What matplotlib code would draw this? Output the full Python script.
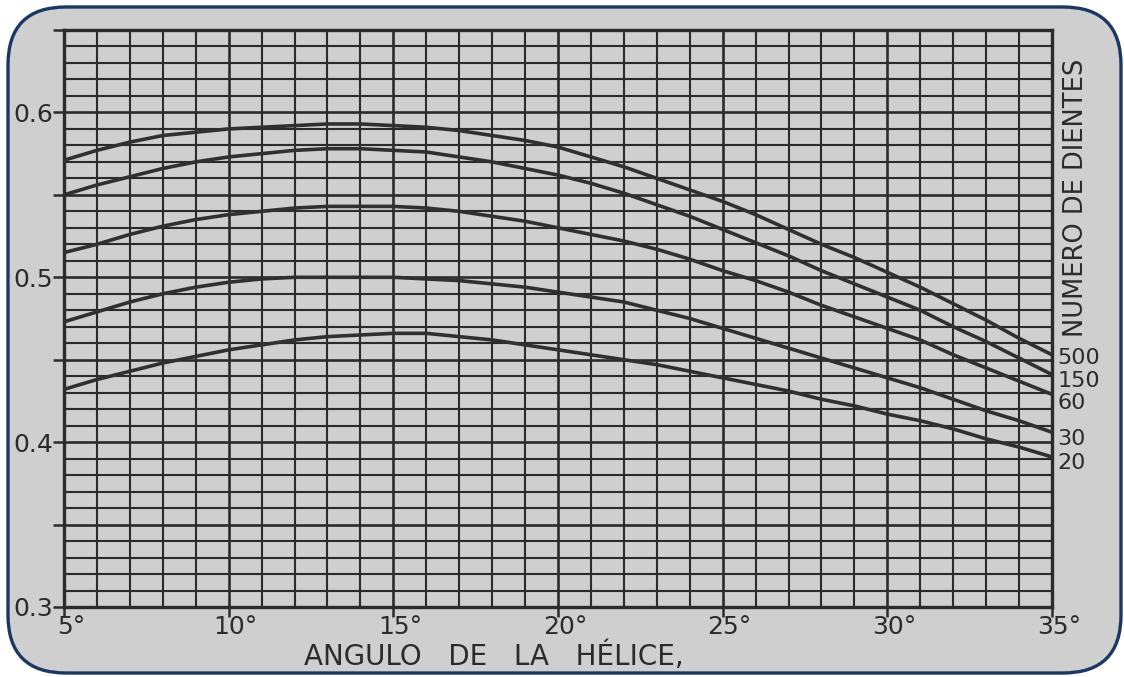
import numpy as np
import matplotlib
matplotlib.use("Agg")
import matplotlib.pyplot as plt
from matplotlib.patches import FancyBboxPatch
from matplotlib.transforms import ScaledTranslation

# Helix angle (degrees) at which each curve is read
angle = [5, 6, 7, 8, 9, 10, 11, 12, 13, 14, 15, 16, 17, 18, 19, 20,
         21, 22, 23, 24, 25, 26, 27, 28, 29, 30, 31, 32, 33, 34, 35]

# Factor vs. helix angle, one series per number of teeth
teeth_500 = [0.571, 0.577, 0.582, 0.586, 0.588, 0.590, 0.591, 0.592, 0.593, 0.593,
             0.592, 0.591, 0.589, 0.586, 0.583, 0.579, 0.573, 0.567, 0.560, 0.553,
             0.546, 0.538, 0.529, 0.520, 0.512, 0.503, 0.494, 0.484, 0.474, 0.463, 0.453]
teeth_150 = [0.550, 0.556, 0.561, 0.566, 0.570, 0.573, 0.575, 0.577, 0.578, 0.578,
             0.577, 0.576, 0.573, 0.570, 0.566, 0.562, 0.557, 0.551, 0.544, 0.537,
             0.529, 0.521, 0.513, 0.504, 0.496, 0.488, 0.480, 0.470, 0.461, 0.451, 0.441]
teeth_60 = [0.515, 0.520, 0.526, 0.531, 0.535, 0.538, 0.540, 0.542, 0.543, 0.543,
            0.543, 0.542, 0.540, 0.537, 0.534, 0.530, 0.526, 0.522, 0.517, 0.511,
            0.504, 0.498, 0.491, 0.483, 0.476, 0.469, 0.462, 0.453, 0.445, 0.437, 0.429]
teeth_30 = [0.473, 0.479, 0.485, 0.490, 0.494, 0.497, 0.499, 0.500, 0.500, 0.500,
            0.500, 0.499, 0.498, 0.496, 0.494, 0.491, 0.488, 0.485, 0.480, 0.475,
            0.469, 0.463, 0.457, 0.451, 0.445, 0.439, 0.433, 0.426, 0.419, 0.413, 0.406]
teeth_20 = [0.432, 0.438, 0.443, 0.448, 0.452, 0.456, 0.459, 0.462, 0.464, 0.465,
            0.466, 0.466, 0.464, 0.462, 0.459, 0.456, 0.453, 0.450, 0.447, 0.443,
            0.439, 0.435, 0.431, 0.426, 0.422, 0.417, 0.413, 0.408, 0.402, 0.397, 0.391]

series_names = ["500", "150", "60", "30", "20"]
series_values = [teeth_500, teeth_150, teeth_60, teeth_30, teeth_20]
# vertical nudge (points) of each end label so they do not collide
label_nudge = [-6.5, -8.7, -10.4, -9.0, -8.3]

x_ticks = [5, 10, 15, 20, 25, 30, 35]
x_tick_labels = ["5°", "10°", "15°", "20°", "25°", "30°", "35°"]
y_ticks = [0.3, 0.35, 0.4, 0.45, 0.5, 0.55, 0.6, 0.65]
y_tick_labels = ["0.3", "", "0.4", "", "0.5", "", "0.6", ""]

x_title = "ANGULO   DE   LA   HÉLICE,"
right_title = "NUMERO DE DIENTES"

PAPER = "#cfcfcf"
INK = "#2b2b2b"
BORDER = "#1b3762"

W, H = 1124, 677
fig = plt.figure(figsize=(W / 100, H / 100), dpi=100)
fig.patch.set_facecolor("white")

# Pixel-space layer for the rounded frame
bg = fig.add_axes([0, 0, 1, 1], zorder=0)
bg.set_xlim(0, W)
bg.set_ylim(H, 0)
bg.axis("off")
bg.add_patch(FancyBboxPatch((8, 7), 1113, 666,
                            boxstyle="round,pad=0,rounding_size=58",
                            fc=PAPER, ec=BORDER, lw=2.4))

ax = fig.add_axes([64 / W, 70 / H, 988 / W, 577 / H], zorder=1)
ax.set_facecolor("none")
ax.set_xlim(5, 35)
ax.set_ylim(0.3, 0.65)

# Graph-paper ruling: 1 degree by 0.01
for xv in np.arange(5, 36, 1):
    ax.axvline(xv, color=INK, lw=1.9 if xv % 5 == 0 else 1.5, zorder=1)
for k in range(0, 36):
    yv = 0.3 + k * 0.01
    ax.axhline(yv, color=INK, lw=1.9 if k % 5 == 0 else 1.5, zorder=1)

for name, vals, dy in zip(series_names, series_values, label_nudge):
    ax.plot(angle, vals, color="#303030", lw=2.6, solid_capstyle="round",
            solid_joinstyle="round", zorder=3)
    ax.annotate(name, xy=(angle[-1], vals[-1]), xytext=(4, dy),
                textcoords="offset points", ha="left", va="baseline",
                fontsize=16, color=INK, annotation_clip=False)

for side in ["left", "right", "top", "bottom"]:
    ax.spines[side].set_color(INK)
    ax.spines[side].set_linewidth(2.4)

ax.set_xticks(x_ticks)
ax.set_xticklabels(x_tick_labels, fontsize=18, color=INK)
ax.set_yticks(y_ticks)
ax.set_yticklabels(y_tick_labels, fontsize=18, color=INK)
ax.tick_params(axis="x", length=7, width=1.8, color=INK, pad=-1)
ax.tick_params(axis="y", length=8, width=1.8, color=INK, pad=0)
shift = ScaledTranslation(7 / 100, 0, fig.dpi_scale_trans)
for lab in ax.get_xticklabels():
    lab.set_transform(lab.get_transform() + shift)

fig.text(304 / W, (H - 665) / H, x_title, fontsize=20, color=INK,
         ha="left", va="baseline")
fig.text(1076 / W, (H - 198) / H, right_title, fontsize=18.5, color=INK,
         rotation=90, ha="center", va="center")

fig.savefig("out.png", dpi=100, facecolor="white")
